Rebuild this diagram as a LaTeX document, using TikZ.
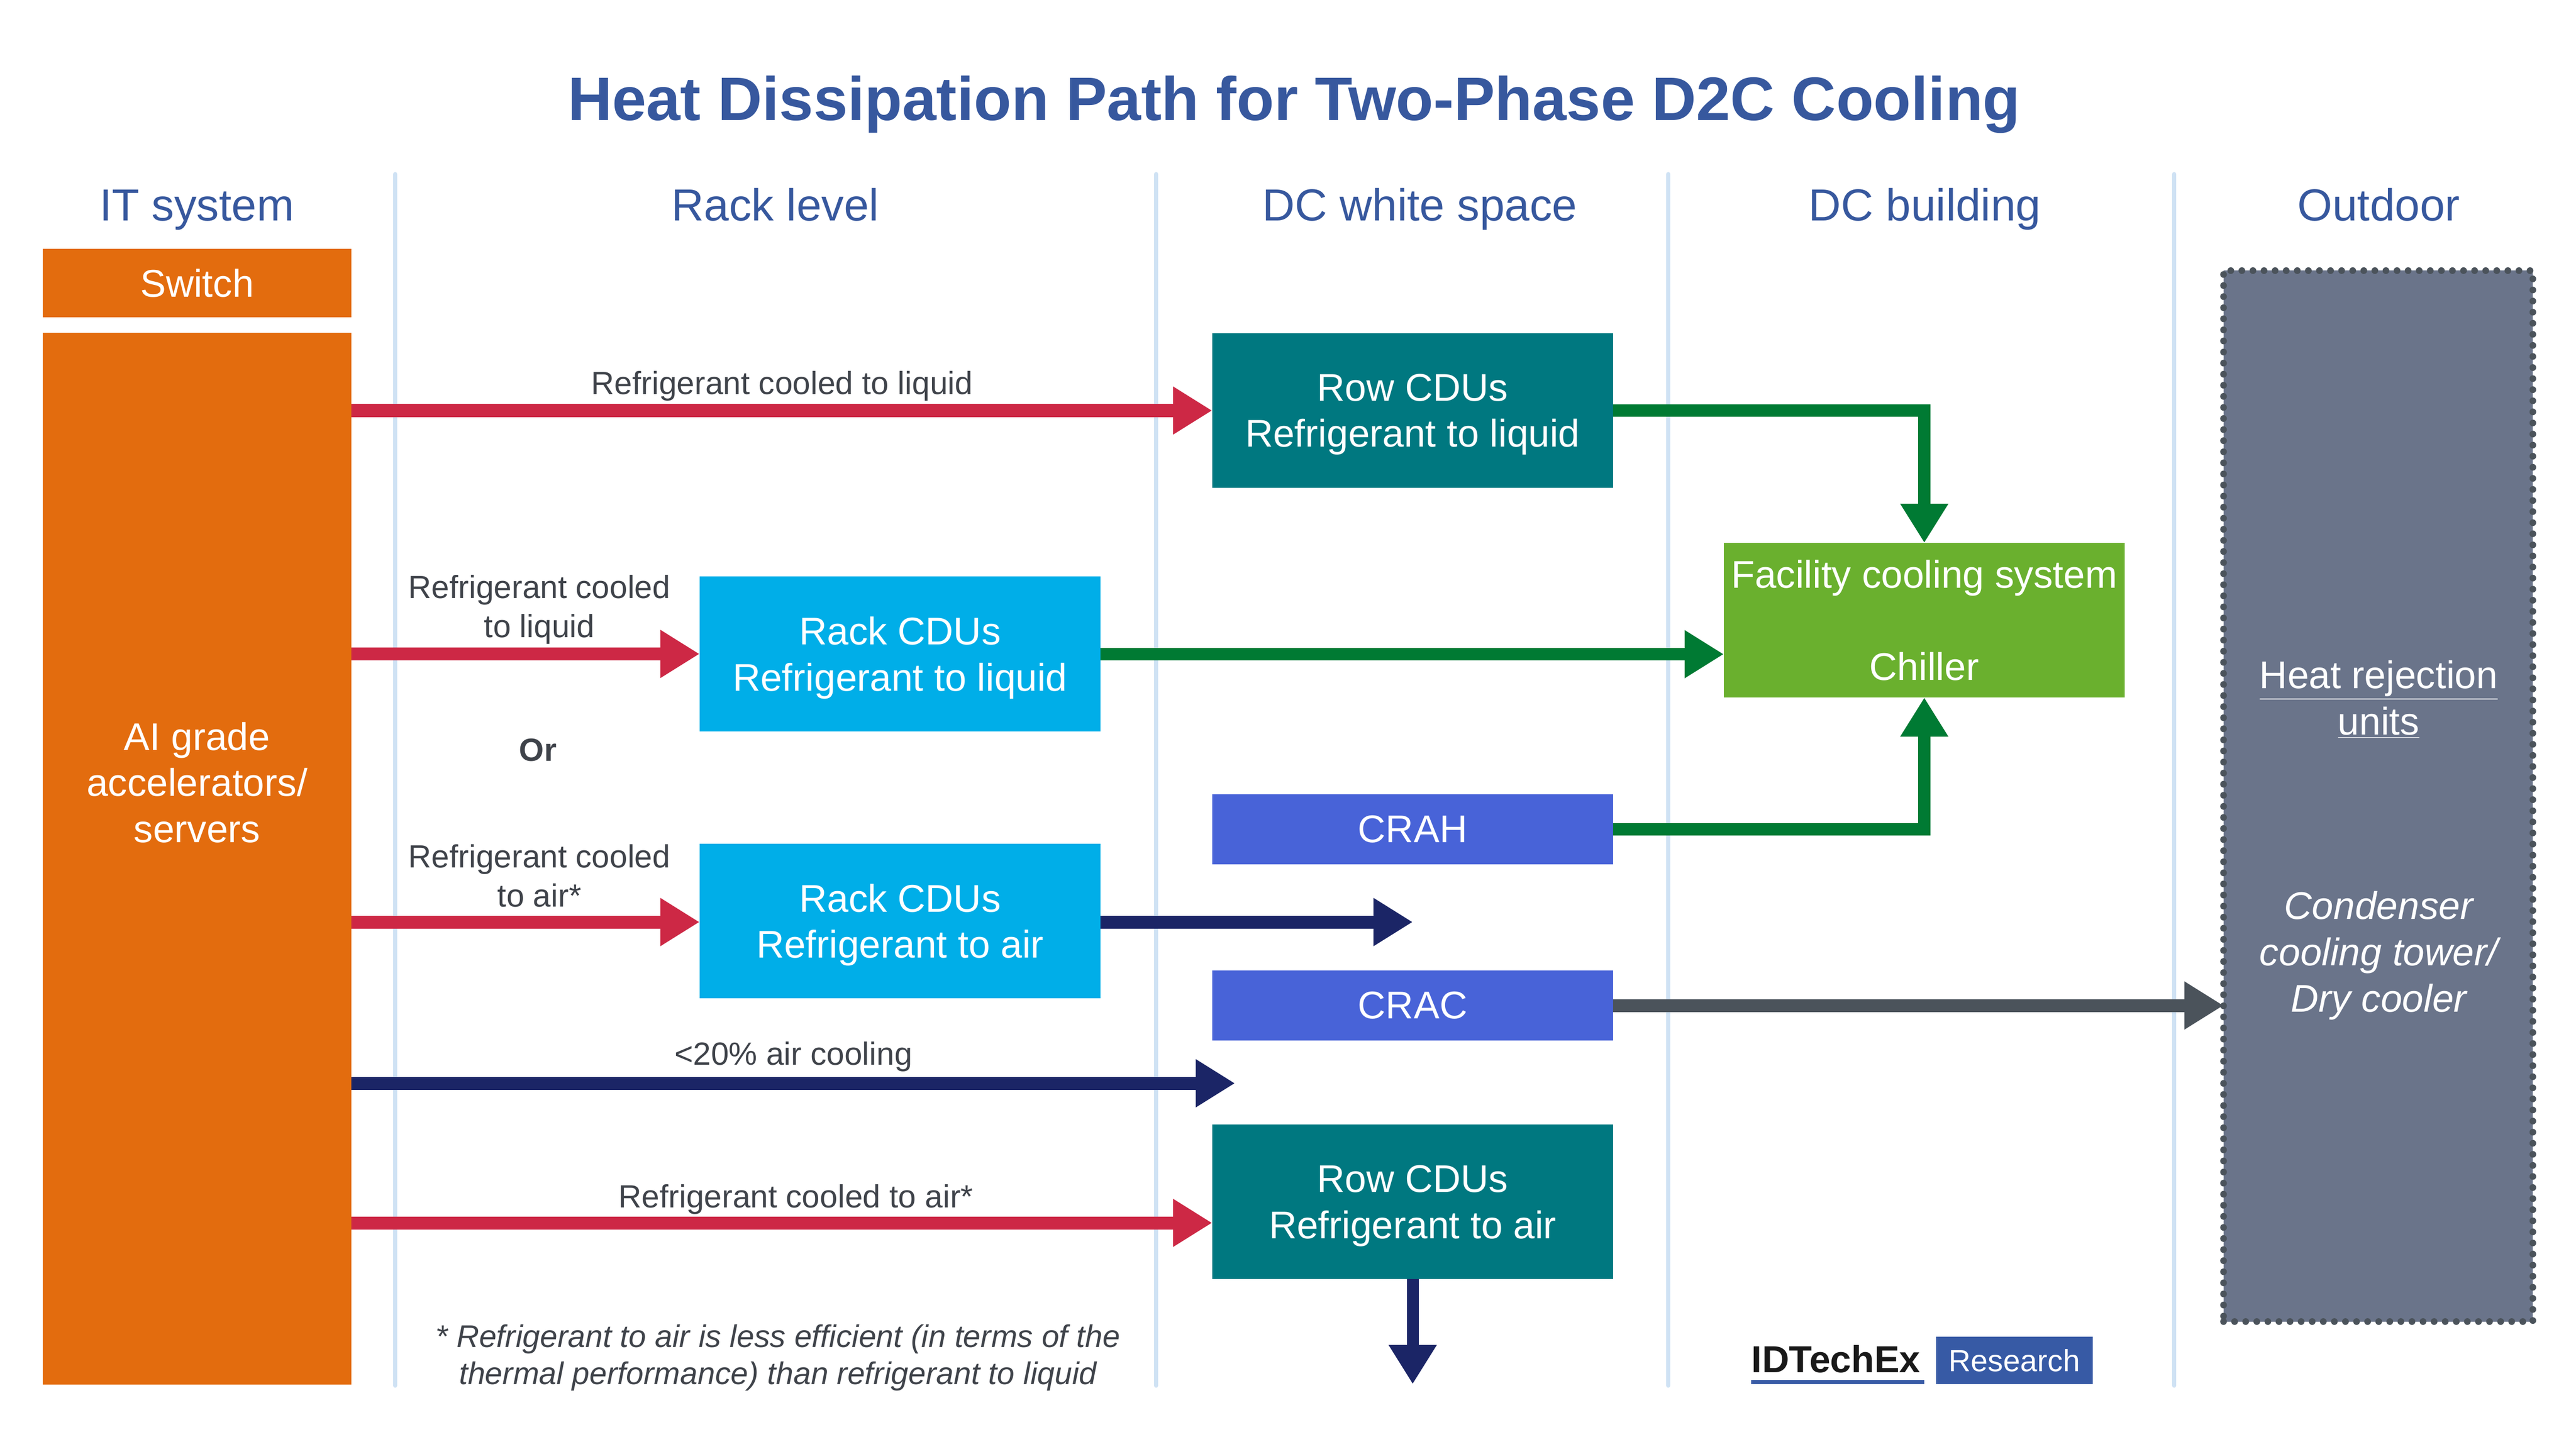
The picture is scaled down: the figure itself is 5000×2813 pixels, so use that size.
\documentclass[tikz,border=0pt]{standalone}
\usepackage{fontspec}
\setmainfont{Liberation Sans}
\usetikzlibrary{arrows.meta,calc}
\definecolor{titleblue}{HTML}{37589E}
\definecolor{orangebox}{HTML}{E36C0E}
\definecolor{tealbox}{HTML}{007880}
\definecolor{cyanbox}{HTML}{00AEE8}
\definecolor{limebox}{HTML}{6AB02E}
\definecolor{crahblue}{HTML}{4863D8}
\definecolor{slatebox}{HTML}{6A748A}
\definecolor{redarrow}{HTML}{CD2845}
\definecolor{greenarrow}{HTML}{007A33}
\definecolor{navyarrow}{HTML}{1B2566}
\definecolor{greyarrow}{HTML}{4B535B}
\definecolor{dividerblue}{HTML}{CFE2F4}
\definecolor{labelgrey}{HTML}{3F434A}
\definecolor{logoblue}{HTML}{375AA5}
\begin{document}
\begin{tikzpicture}[x=0.01cm,y=-0.01cm,
  box/.style={rectangle,draw=none,inner sep=0pt,outer sep=0pt,text=white,align=center,
    font={\fontsize{21.3}{25.5}\selectfont},minimum width=7.78cm,minimum height=3cm},
  boxtext/.style={inner sep=0pt,text=white,align=center,font={\fontsize{21.3}{25.5}\selectfont}},
  lbl/.style={inner sep=0pt,text=labelgrey,align=center,font={\fontsize{17.7}{21.6}\selectfont}},
  header/.style={inner sep=0pt,text=titleblue,anchor=base,font={\fontsize{24.8}{30}\selectfont}},
  divider/.style={draw=dividerblue,line width=0.08cm,line cap=round},
  arr/.style={line width=0.25cm,line join=miter,-{Triangle[length=0.76cm,width=0.88cm]}}]
\useasboundingbox[fill=white] (0,0) rectangle (5000,2813);

% title and headers
\node[inner sep=0pt,anchor=base,text=titleblue,font={\fontsize{33.9}{40}\selectfont\bfseries}] (title) at (2512,234) {Heat Dissipation Path for Two-Phase D2C Cooling};
\node[header] (hit) at (382,429) {IT system};
\node[header] (hrack) at (1505,429) {Rack level};
\node[header] (hwhite) at (2756,429) {DC white space};
\node[header] (hbuild) at (3736,429) {DC building};
\node[header] (hout) at (4617,429) {Outdoor};

% dividers
\draw[divider] (767,338) -- (767,2690);
\draw[divider] (2244,338) -- (2244,2690);
\draw[divider] (3238,338) -- (3238,2690);
\draw[divider] (4220,338) -- (4220,2690);

% boxes
\node[box,fill=orangebox,minimum width=5.99cm,minimum height=1.33cm] (switch) at (382.5,549.5) {Switch};
\node[box,fill=orangebox,minimum width=5.99cm,minimum height=20.4cm] (ai) at (382.5,1667) {};
\node[boxtext] (aitext) at (382.5,1519) {AI grade\\accelerators/\\servers};
\node[box,fill=tealbox,text depth=0pt] (rowliq) at (2742,797) {Row CDUs\\Refrigerant to liquid};
\node[box,fill=cyanbox,text depth=0pt] (rackliq) at (1747,1269.5) {Rack CDUs\\Refrigerant to liquid};
\node[box,fill=cyanbox,text depth=0pt] (rackair) at (1747,1788) {Rack CDUs\\Refrigerant to air};
\node[box,fill=limebox] (facility) at (3735,1204) {Facility cooling system\\[25.5pt]Chiller};
\node[box,fill=crahblue,minimum height=1.36cm] (crah) at (2742,1610) {CRAH};
\node[box,fill=crahblue,minimum height=1.35cm] (crac) at (2742,1952) {CRAC};
\node[box,fill=tealbox,text depth=0pt] (rowair) at (2742,2333) {Row CDUs\\Refrigerant to air};
\node[rectangle,inner sep=0pt,outer sep=0pt,fill=slatebox,draw=greyarrow,line width=0.13cm,
  dash pattern=on 0pt off 0.215cm,line cap=round,minimum width=6cm,minimum height=20.39cm] (outdoor) at (4616,1545.5) {};
\node[boxtext] (heatrej) at (4617,1358) {\underline{Heat rejection}\\\underline{units}};
\node[boxtext,font={\fontsize{21.3}{25.5}\selectfont\itshape}] (condenser) at (4617,1855) {Condenser\\cooling tower/\\Dry cooler};

% free ends
\coordinate (airend) at (2742,1790);
\coordinate (lowairend) at (2397,2103);
\coordinate (downend) at (2742,2687);

% red arrows
\draw[arr,draw=redarrow] (ai.east |- rowliq.west) -- (rowliq.west);
\draw[arr,draw=redarrow] (ai.east |- rackliq.west) -- (rackliq.west);
\draw[arr,draw=redarrow] (ai.east |- airend) -- (rackair.west |- airend);
\draw[arr,draw=redarrow] (ai.east |- 0,2374) -- (rowair.west |- 0,2374);

% navy arrows
\draw[arr,draw=navyarrow] (rackair.east |- airend) -- (airend);
\draw[arr,draw=navyarrow] (ai.east |- lowairend) -- (lowairend);
\draw[arr,draw=navyarrow,line width=0.23cm] (rowair.south) -- (downend);

% green arrows
\draw[arr,draw=greenarrow,line width=0.24cm] (rowliq.east) -| (facility.north);
\draw[arr,draw=greenarrow,line width=0.24cm] (rackliq.east |- 0,1270) -- (facility.west |- 0,1270);
\draw[arr,draw=greenarrow,line width=0.24cm] (crah.east) -| (facility.south);

% grey arrow
\draw[arr,draw=greyarrow] (crac.east) -- (outdoor.west |- crac.east);

% labels
\node[lbl,anchor=base] (l1) at (1518,766) {Refrigerant cooled to liquid};
\node[lbl] (l2) at (1047,1183) {Refrigerant cooled\\to liquid};
\node[lbl,font={\fontsize{17.7}{21.6}\selectfont\bfseries}] (lor) at (1044,1456) {Or};
\node[lbl] (l3) at (1047,1700) {Refrigerant cooled\\to air*};
\node[lbl,anchor=base] (l4) at (1540,2067) {<20\% air cooling};
\node[lbl,anchor=base] (l5) at (1545,2344) {Refrigerant cooled to air*};
\node[lbl,font={\fontsize{17.3}{20.6}\selectfont\itshape}] (foot) at (1510,2636) {* Refrigerant to air is less efficient (in terms of the\\thermal performance) than refrigerant to liquid};

% logo
\node[inner sep=0pt,anchor=base west,text=black!90,font={\fontsize{20.8}{24}\selectfont\bfseries}] (logo) at (3399,2664) {IDTechEx};
\fill[logoblue] (3399,2679) rectangle (3735,2687);
\node[rectangle,inner sep=0pt,fill=logoblue,text=white,minimum width=3.04cm,minimum height=0.92cm,
  font={\fontsize{16.9}{20}\selectfont}] (research) at (3910,2641) {Research};
\end{tikzpicture}
\end{document}
